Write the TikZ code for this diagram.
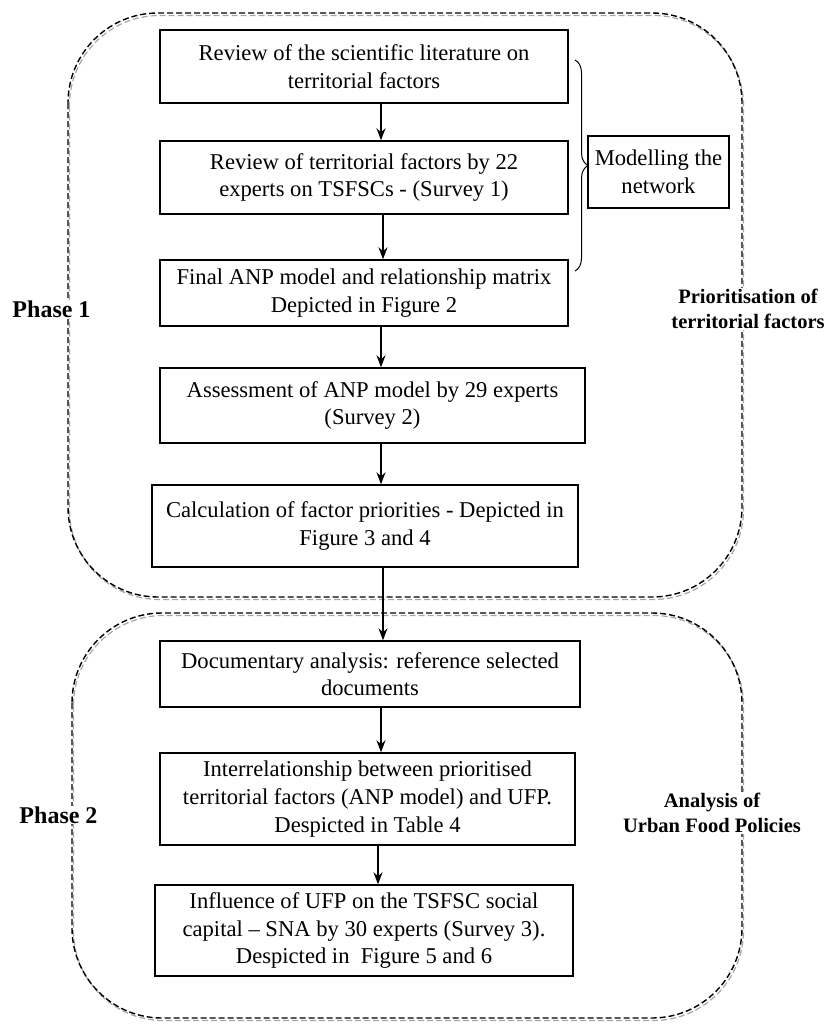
\documentclass[tikz,border=0pt]{standalone}
\usepackage{fontspec}
\setmainfont{Liberation Serif}
\usetikzlibrary{decorations.pathreplacing,arrows.meta}
\begin{document}
\begin{tikzpicture}[x=1pt,y=-1pt,
  box/.style={draw, line width=1.4pt, rectangle, align=center, inner sep=0pt,
    font=\fontsize{22.6}{27.6}\selectfont},
  lbl/.style={align=center, fill=white, inner sep=1pt, font=\fontsize{20.5}{24.5}\selectfont\bfseries},
  plbl/.style={fill=white, inner sep=1pt, font=\fontsize{24}{28}\selectfont\bfseries},
  conn/.style={line width=1.4pt, -{Stealth[length=12pt,width=9pt]}},
  region/.style={rounded corners=90pt, line width=1.4pt, dash pattern=on 6pt off 3pt},
  regionshadow/.style={region, draw=black!35, line width=1.2pt}]
\useasboundingbox (0,0) rectangle (826,1025);
% regions
\draw[regionshadow] (69.5,15.5) rectangle (743.5,599.5);
\draw[region] (68,13) rectangle (742,597);
\draw[regionshadow] (73.5,615.5) rectangle (743.5,1020.5);
\draw[region] (72,613) rectangle (742,1018);
% boxes
\node[box, minimum width=408pt, minimum height=73pt] (b1) at (364,66.5)
  {Review of the scientific literature on\\territorial factors};
\node[box, minimum width=408pt, minimum height=73pt] (b2) at (364,177.5)
  {Review of territorial factors by 22\\experts on TSFSCs - (Survey 1)};
\node[box, minimum width=408pt, minimum height=66pt] (b3) at (364,293)
  {Final ANP model and relationship matrix\\Depicted in Figure 2};
\node[box, minimum width=425pt, minimum height=75pt] (b4) at (372.5,405.5)
  {Assessment of ANP model by 29 experts\\(Survey 2)};
\node[box, minimum width=426pt, minimum height=82pt] (b5) at (365,526)
  {Calculation of factor priorities - Depicted in\\Figure 3 and 4};
\node[box, minimum width=420pt, minimum height=66pt] (b6) at (370,674)
  {Documentary analysis: reference selected\\documents};
\node[box, minimum width=415pt, minimum height=92pt] (b7) at (367.5,799)
  {Interrelationship between prioritised\\territorial factors (ANP model) and UFP.\\Despicted in Table 4};
\node[box, minimum width=418pt, minimum height=91pt] (b8) at (364,930.5)
  {Influence of UFP on the TSFSC social\\capital -- SNA by 30 experts (Survey 3).\\Despicted in\ \ Figure 5 and 6};
\node[box, minimum width=141pt, minimum height=72pt] (mn) at (658.5,172)
  {Modelling the\\network};
% labels
\node[plbl] (p1) at (51.5,309) {Phase 1};
\node[plbl] (p2) at (58.5,815) {Phase 2};
\node[lbl] (l1) at (748,309) {Prioritisation of\\territorial factors};
\node[lbl] (l2) at (712,813) {Analysis of\\Urban Food Policies};
% brace
\coordinate (bt) at (575,60);
\coordinate (bb) at (575,271);
\draw[line width=1pt, decorate, decoration={brace, amplitude=13pt}] (bt) -- (bb);
% arrows
\coordinate (ax) at (381,0);
\coordinate (ay) at (383,0);
\coordinate (az) at (378,0);
\draw[conn] (b1.south -| ax) -- (b2.north -| ax);
\draw[conn] (b2.south -| ay) -- (b3.north -| ay);
\draw[conn] (b3.south -| ax) -- (b4.north -| ax);
\draw[conn] (b4.south -| ax) -- (b5.north -| ax);
\draw[conn] (b5.south -| ay) -- (b6.north -| ay);
\draw[conn] (b6.south -| ax) -- (b7.north -| ax);
\draw[conn] (b7.south -| az) -- (b8.north -| az);
\end{tikzpicture}
\end{document}
